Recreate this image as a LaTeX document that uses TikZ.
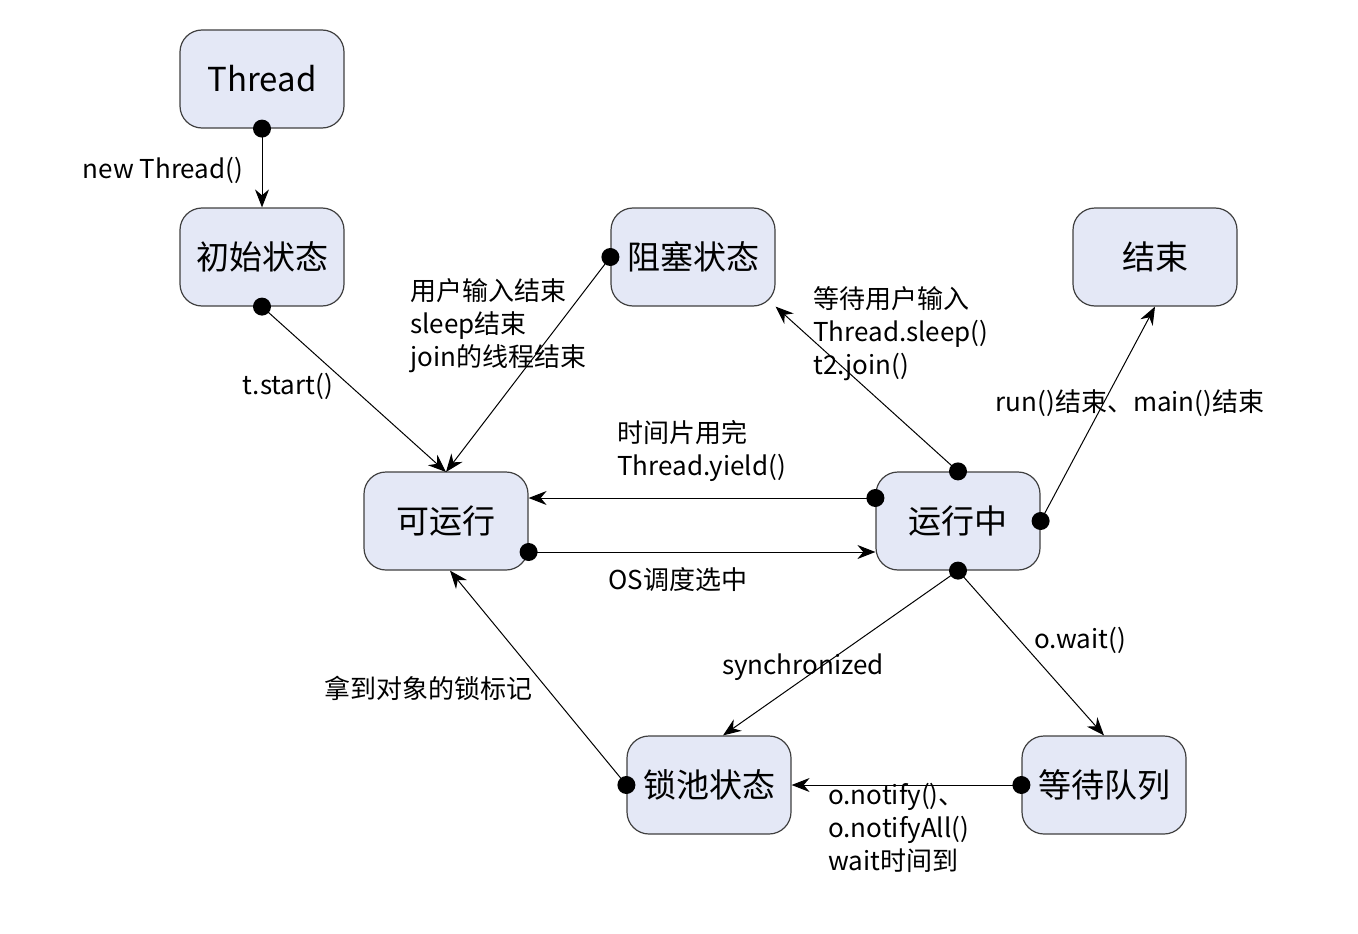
\documentclass[tikz,border=0pt]{standalone}
\usepackage{fontspec}
\setmainfont{Noto Sans CJK SC}
\usetikzlibrary{arrows.meta}
\definecolor{nf}{HTML}{E4E8F6}
\begin{document}
\begin{tikzpicture}[x=1pt,y=-1pt,
  st/.style={draw=black!75,line width=1.2pt,fill=nf,rounded corners=22pt,minimum width=164pt,minimum height=98pt,font=\fontsize{33}{36}\selectfont},
  lb/.style={font=\fontsize{26}{33}\selectfont,align=left,inner sep=0pt},
  ar/.style={line width=1pt,-{Stealth[length=18pt,width=14pt]}},
  dot/.style={fill=black}]
\useasboundingbox (0,0) rectangle (1358,934);
\node[st] (th) at (262,79) {Thread};
\node[st] (init) at (262,257) {初始状态};
\node[st] (blk) at (693,257) {阻塞状态};
\node[st] (end) at (1155,257) {结束};
\node[st] (rdy) at (446,521) {可运行};
\node[st] (run) at (958,521) {运行中};
\node[st] (lock) at (709,785) {锁池状态};
\node[st] (wq) at (1104,785) {等待队列};
\coordinate (rdyT) at (446,472);
\coordinate (runU) at ([yshift=23pt]run.west);
\coordinate (rdyU) at ([yshift=23pt]rdy.east);
\coordinate (rdyD) at ([yshift=-31pt]rdy.east);
\coordinate (runD) at ([yshift=-31pt]run.west);
\draw[ar] (th.south) -- (init.north);
\draw[ar] (init.south) -- (rdyT);
\draw[ar] (blk.west) -- (rdyT);
\draw[ar] (run.north) -- (blk.south east);
\draw[ar] (run.east) -- (end.south);
\draw[ar] (runU) -- (rdyU);
\draw[ar] (rdyD) -- (runD);
\draw[ar] (run.south) -- ([xshift=14pt]lock.north);
\draw[ar] (run.south) -- (wq.north);
\draw[ar] (wq.west) -- (lock.east);
\draw[ar] (lock.west) -- ([xshift=4pt]rdy.south);
\foreach \p in {th.south,init.south,blk.west,run.north,run.east,runU,rdyD,run.south,wq.west,lock.west}
  \fill[dot] (\p) circle (9pt);
\node[lb] at (163,170) {new Thread()};
\node[lb] at (288,386) {t.start()};
\node[lb,anchor=north west] at (410,278) {用户输入结束\\sleep结束\\join的线程结束};
\node[lb,anchor=north west] at (813,286) {等待用户输入\\Thread.sleep()\\t2.join()};
\node[lb] at (1130,403) {run()结束、main()结束};
\node[lb,anchor=north west] at (617,420) {时间片用完\\Thread.yield()};
\node[lb] at (678,580) {OS调度选中};
\node[lb] at (803,667) {synchronized};
\node[lb] at (1080,640) {o.wait()};
\node[lb,anchor=north west] at (828,783) {o.notify()、\\o.notifyAll()\\wait时间到};
\node[lb] at (428,688) {拿到对象的锁标记};
\end{tikzpicture}
\end{document}
